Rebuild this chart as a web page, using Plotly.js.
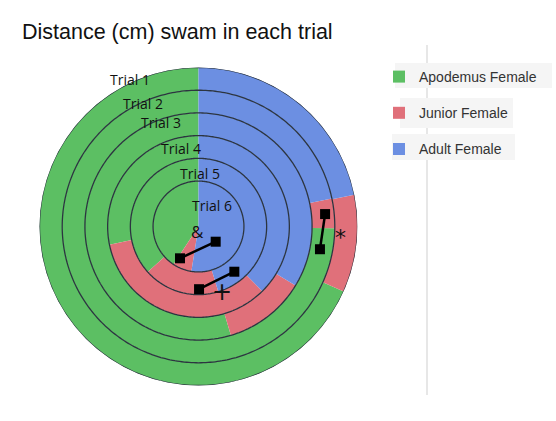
<!DOCTYPE html>
<html><head><meta charset="utf-8">
<script src="https://cdn.plot.ly/plotly-3.0.1.min.js"></script>
<style>html,body{margin:0;padding:0;background:#fff}#chart{width:556px;height:421px}</style>
</head><body><div id="chart"></div>
<script>
// Rings: Trial 1 is the outermost ring, Trial 6 the inner disk
const trials = ['Trial 1', 'Trial 2', 'Trial 3', 'Trial 4', 'Trial 5', 'Trial 6'];
// share (%) of the distance swam in each trial, read clockwise from 12 o'clock
const adultFemale    = [21.8, 21.7, 33.7, 37.6, 45.3, 52.5];
const juniorFemale   = [ 9.9,  3.5, 11.7, 34.2, 18.1,  6.8];
const apodemusFemale = [68.3, 74.8, 54.6, 28.2, 36.6, 40.7];
const seriesNames = ['Adult Female', 'Junior Female', 'Apodemus Female'];
// significance markers (&, +, *): two ends of each bar in (ring radius, degrees)
const sigLabels = ['&', '+', '*'];
const sigStartR = [1.62, 2.76, 5.60];
const sigStartT = [210.2, 179.5, 84.4];
const sigEndR   = [1.01, 2.54, 5.44];
const sigEndT   = [131.5, 141.6, 100.6];

const colors = {'Adult Female': '#6c8fe2', 'Junior Female': '#e0707a', 'Apodemus Female': '#5cbf63'};
const seriesVals = {'Adult Female': adultFemale, 'Junior Female': juniorFemale, 'Apodemus Female': apodemusFemale};

// ring geometry: rings of unit width, inner disk of width 2
const ringBase = trials.map((t, i) => i < trials.length - 1 ? trials.length - i : 0);
const ringThick = trials.map((t, i) => i < trials.length - 1 ? 1 : 2);

function sectors(name) {
  const idx = seriesNames.indexOf(name);
  const theta = [], width = [];
  trials.forEach((t, i) => {
    const vals = seriesNames.map(n => seriesVals[n][i]);
    const total = vals.reduce((a, b) => a + b, 0);
    const k = 360 / total;
    const start = vals.slice(0, idx).reduce((a, b) => a + b, 0);
    theta.push((start + vals[idx] / 2) * k);
    width.push(vals[idx] * k);
  });
  return {theta, width};
}

const data = [];
['Apodemus Female', 'Junior Female', 'Adult Female'].forEach((name, gi) => {
  const s = sectors(name);
  data.push({
    type: 'barpolar', name: name, legendgroup: 'g' + gi,
    r: ringThick, base: ringBase, theta: s.theta, width: s.width,
    text: trials, hoverinfo: 'name+text',
    marker: {color: colors[name], line: {width: 0}}
  });
});

// ring outlines
const outerR = ringBase[0] + ringThick[0];
const boundaries = [];
trials.forEach((t, i) => boundaries.push(ringBase[i] + ringThick[i]));
const circTheta = [];
for (let a = 0; a <= 360; a += 1) circTheta.push(a);
boundaries.forEach(b => {
  data.push({
    type: 'scatterpolar', mode: 'lines', showlegend: false, hoverinfo: 'skip',
    r: circTheta.map(() => b), theta: circTheta,
    line: {color: '#2c3540', width: 1.3}
  });
});

// significance bars
sigLabels.forEach((lab, i) => {
  data.push({
    type: 'scatterpolar', mode: 'lines+markers', showlegend: false, hoverinfo: 'skip',
    r: [sigStartR[i], sigEndR[i]], theta: [sigStartT[i], sigEndT[i]],
    line: {color: '#000', width: 2.5},
    marker: {symbol: 'square', size: 10, color: '#000'},
    cliponaxis: false
  });
});

const W = 556, H = 421;
const cx = 198.5, cy = 226.5, R = 159;
const annPx = (txt, x, y, size, fam) => ({
  text: txt, x: x / W, y: 1 - y / H, xref: 'paper', yref: 'paper',
  xanchor: 'center', yanchor: 'middle', showarrow: false,
  font: {family: fam || 'Open Sans, sans-serif', size: size || 14, color: '#111'}
});
const annotations = [
  annPx(trials[0], 130, 80), annPx(trials[1], 143, 104), annPx(trials[2], 161, 123),
  annPx(trials[3], 181, 148), annPx(trials[4], 200, 173), annPx(trials[5], 212, 205),
  annPx(sigLabels[0], 197, 232, 17), annPx(sigLabels[1], 222, 292, 24, 'DejaVu Sans, sans-serif'),
  annPx(sigLabels[2], 340, 237, 22, 'DejaVu Sans, sans-serif')
];

const shapes = [
  {type: 'line', xref: 'paper', yref: 'paper', x0: 427 / W, x1: 427 / W, y0: 1 - 45 / H, y1: 1 - 395 / H,
   line: {color: '#cfcfcf', width: 1}, layer: 'below'},
  {type: 'rect', xref: 'paper', yref: 'paper', x0: 395 / W, x1: 552 / W, y0: 1 - 63 / H, y1: 1 - 88 / H,
   fillcolor: '#f5f5f5', line: {width: 0}, layer: 'below'},
  {type: 'rect', xref: 'paper', yref: 'paper', x0: 400 / W, x1: 513 / W, y0: 1 - 98 / H, y1: 1 - 128 / H,
   fillcolor: '#f5f5f5', line: {width: 0}, layer: 'below'},
  {type: 'rect', xref: 'paper', yref: 'paper', x0: 392 / W, x1: 515 / W, y0: 1 - 134 / H, y1: 1 - 160 / H,
   fillcolor: '#f5f5f5', line: {width: 0}, layer: 'below'}
];

const layout = {
  width: W, height: H, margin: {l: 0, r: 0, t: 0, b: 0},
  paper_bgcolor: '#fff', plot_bgcolor: '#fff',
  title: {text: 'Distance (cm) swam in each trial', x: 22 / W, xanchor: 'left', xref: 'paper',
          y: 1 - 31 / H, yanchor: 'middle', yref: 'paper',
          font: {family: 'Liberation Sans, Arial, sans-serif', size: 21.5, color: '#111'}},
  polar: {
    domain: {x: [(cx - R) / W, (cx + R) / W], y: [(H - cy - R) / H, (H - cy + R) / H]},
    bgcolor: 'rgba(0,0,0,0)', hole: 0, bargap: 0,
    radialaxis: {range: [0, outerR], visible: false, showgrid: false},
    angularaxis: {rotation: 90, direction: 'clockwise', visible: false, showgrid: false}
  },
  showlegend: true,
  legend: {x: 379 / W, xanchor: 'left', y: 1 - 61 / H, yanchor: 'top',
           traceorder: 'grouped', tracegroupgap: 15, bgcolor: 'rgba(0,0,0,0)',
           font: {family: 'Liberation Sans, Arial, sans-serif', size: 14, color: '#333'}},
  annotations: annotations, shapes: shapes
};

Plotly.newPlot('chart', data, layout, {displayModeBar: false, staticPlot: true});
</script></body></html>
